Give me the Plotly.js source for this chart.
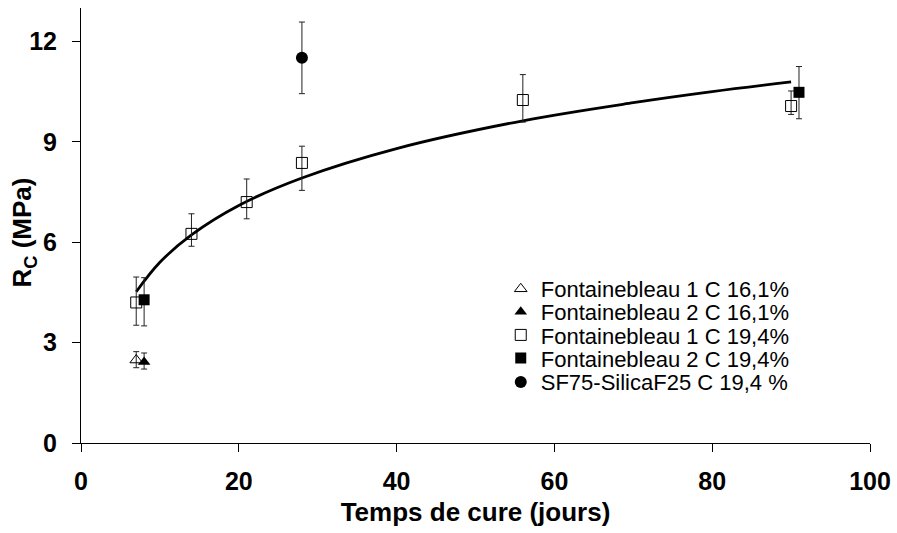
<!DOCTYPE html>
<html>
<head>
<meta charset="utf-8">
<script src="https://cdn.plot.ly/plotly-3.0.1.min.js"></script>
<style>html,body{margin:0;padding:0;background:#fff;}#chart{width:897px;height:533px;}</style>
</head>
<body>
<div id="chart"></div>
<script>
// Series names
const seriesNames = [
  "Fontainebleau 1 C 16,1%",
  "Fontainebleau 2 C 16,1%",
  "Fontainebleau 1 C 19,4%",
  "Fontainebleau 2 C 19,4%",
  "SF75-SilicaF25 C 19,4 %"
];

// Fontainebleau 1 C 16,1%
const f1c16_x = [7];
const f1c16_y = [2.48];
const f1c16_errPlus = [0.25];
const f1c16_errMinus = [0.23];

// Fontainebleau 2 C 16,1%
const f2c16_x = [8];
const f2c16_y = [2.42];
const f2c16_errPlus = [0.27];
const f2c16_errMinus = [0.21];

// Fontainebleau 1 C 19,4%
const f1c19_x = [7, 14, 21, 28, 56, 90];
const f1c19_y = [4.2, 6.25, 7.2, 8.37, 10.25, 10.07];
const f1c19_errPlus = [0.76, 0.6, 0.69, 0.5, 0.76, 0.45];
const f1c19_errMinus = [0.68, 0.37, 0.5, 0.82, 0.66, 0.25];

// Fontainebleau 2 C 19,4%
const f2c19_x = [8, 91];
const f2c19_y = [4.28, 10.48];
const f2c19_errPlus = [0.66, 0.77];
const f2c19_errMinus = [0.78, 0.79];

// SF75-SilicaF25 C 19,4 %
const sf_x = [28];
const sf_y = [11.51];
const sf_errPlus = [1.07];
const sf_errMinus = [1.07];

// Trend curve
const trend_x = [7, 10, 14, 20, 28, 40, 56, 70, 80, 90];
const trend_y = [4.52, 5.40, 6.22, 7.10, 7.92, 8.80, 9.63, 10.17, 10.50, 10.79];

// Axis ticks and titles
const xTicks = [0, 20, 40, 60, 80, 100];
const yTicks = [0, 3, 6, 9, 12];
const xTitle = 'Temps de cure (jours)';
const yTitle = 'R<sub>C</sub> (MPa)';

const errStyle = {color: '#222', thickness: 1, width: 3};

function errY(plus, minus) {
  return Object.assign({type: 'data', symmetric: false, array: plus, arrayminus: minus, visible: true}, errStyle);
}

const traces = [
  {
    x: trend_x, y: trend_y, mode: 'lines', type: 'scatter',
    line: {color: '#000', width: 2.8, shape: 'spline', smoothing: 1},
    showlegend: false, hoverinfo: 'skip'
  },
  {
    name: seriesNames[0], x: f1c16_x, y: f1c16_y, mode: 'markers', type: 'scatter', legend: 'legend',
    marker: {symbol: 'triangle-up-open', size: 11, color: '#000', line: {width: 1, color: '#000'}},
    error_y: errY(f1c16_errPlus, f1c16_errMinus)
  },
  {
    name: seriesNames[1], x: f2c16_x, y: f2c16_y, mode: 'markers', type: 'scatter', legend: 'legend2',
    marker: {symbol: 'triangle-up', size: 11, color: '#000'},
    error_y: errY(f2c16_errPlus, f2c16_errMinus)
  },
  {
    name: seriesNames[2], x: f1c19_x, y: f1c19_y, mode: 'markers', type: 'scatter', legend: 'legend3',
    marker: {symbol: 'square-open', size: 11, color: '#000', line: {width: 1, color: '#000'}},
    error_y: errY(f1c19_errPlus, f1c19_errMinus)
  },
  {
    name: seriesNames[3], x: f2c19_x, y: f2c19_y, mode: 'markers', type: 'scatter', legend: 'legend4',
    marker: {symbol: 'square', size: 11, color: '#000'},
    error_y: errY(f2c19_errPlus, f2c19_errMinus)
  },
  {
    name: seriesNames[4], x: sf_x, y: sf_y, mode: 'markers', type: 'scatter', legend: 'legend5',
    marker: {symbol: 'circle', size: 12, color: '#000'},
    error_y: errY(sf_errPlus, sf_errMinus)
  }
];

const fam = 'Liberation Sans, Arial, sans-serif';
const tickFont = {family: fam, size: 25, color: '#000', weight: 'bold'};
const titleFont = {family: fam, size: 26, color: '#000', weight: 'bold'};
const legendFont = {family: fam, size: 22, color: '#000'};

function leg(y) {
  return {
    x: 0.532, y: y, xanchor: 'left', yanchor: 'middle',
    font: legendFont, bgcolor: 'rgba(0,0,0,0)', borderwidth: 0, itemwidth: 30
  };
}

const layout = {
  width: 897, height: 533,
  margin: {l: 81, r: 27, t: 8, b: 90},
  paper_bgcolor: '#fff', plot_bgcolor: '#fff',
  showlegend: true,
  legend: leg(0.354),
  legend2: leg(0.301),
  legend3: leg(0.248),
  legend4: leg(0.195),
  legend5: leg(0.140),
  xaxis: {
    range: [0, 100], tickvals: xTicks, ticktext: xTicks.map(String),
    showgrid: false, zeroline: false, showline: true, linecolor: '#000', linewidth: 1,
    ticks: 'outside', ticklen: 8, tickcolor: '#000', tickwidth: 1,
    tickfont: tickFont, ticklabelstandoff: 8,
    title: {text: xTitle, font: titleFont, standoff: 8},
    mirror: false
  },
  yaxis: {
    range: [0, 13], tickvals: yTicks, ticktext: yTicks.map(String),
    showgrid: false, zeroline: false, showline: true, linecolor: '#000', linewidth: 1,
    ticks: 'outside', ticklen: 8, tickcolor: '#000', tickwidth: 1,
    tickfont: tickFont, ticklabelstandoff: 10,
    mirror: false
  },
  annotations: [{
    text: yTitle, xref: 'paper', yref: 'paper', x: -0.0729, y: 0.485,
    xanchor: 'center', yanchor: 'middle', textangle: -90, showarrow: false,
    font: titleFont
  }]
};

Plotly.newPlot('chart', traces, layout, {displayModeBar: false, staticPlot: true});
</script>
</body>
</html>
